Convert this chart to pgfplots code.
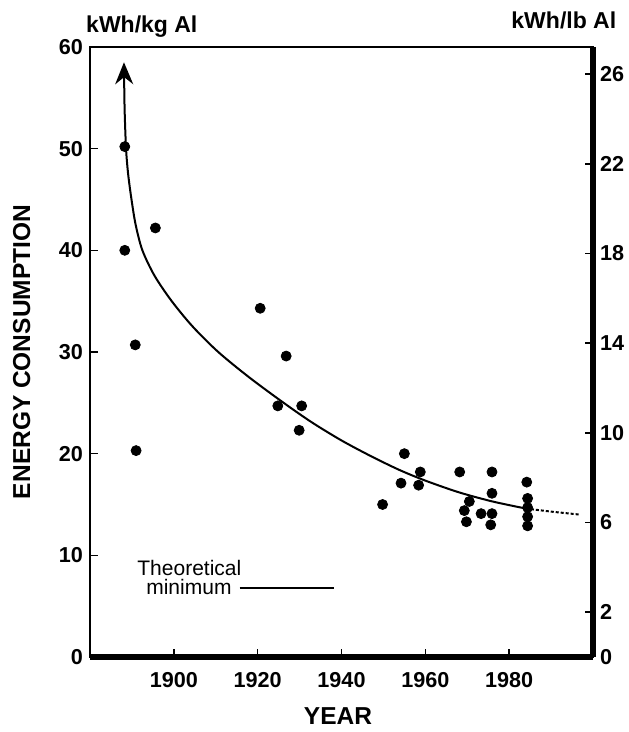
\documentclass[border=0pt]{standalone}
\usepackage{pgfplots}
\pgfplotsset{compat=1.18}
\usepackage{fontspec}
\setmainfont{Liberation Sans}
\usetikzlibrary{arrows.meta}
\begin{document}
\begin{tikzpicture}
\useasboundingbox (-45pt,-37.5pt) rectangle (269pt,328.5pt);
\begin{axis}[
  scale only axis, width=251.5pt, height=305pt,
  xmin=1880, xmax=2000, ymin=0, ymax=60,
  xtick={1900,1920,1940,1960,1980}, ytick={0,10,20,30,40,50,60},
  xtick pos=bottom, ytick pos=left,
  tick align=inside, major tick length=4pt,
  tick style={line width=0.8pt, black},
  axis line style={line width=1pt},
  /pgf/number format/assume math mode=true,
  /pgf/number format/1000 sep={},
  tick label style={font=\fontsize{10.8}{12}\selectfont\bfseries},
  x tick label style={yshift=-4pt},
  xlabel={YEAR}, ylabel={ENERGY CONSUMPTION},
  every axis y label/.style={at={(rel axis cs:-0.136,0.5)}, rotate=90, anchor=center, font=\fontsize{12.25}{14}\selectfont\bfseries},
  every axis x label/.style={at={(rel axis cs:0.493,-0.097)}, anchor=center, font=\fontsize{12.25}{14}\selectfont\bfseries},
  clip=false,
]
\draw[line width=3pt] (rel axis cs:0,0) -- (rel axis cs:1,0);
\addplot[only marks, mark=*, mark size=2.5pt, black] coordinates {
(1888.3,50.2) (1888.3,40.0) (1895.6,42.2) (1890.8,30.7) (1891.0,20.3)
(1920.6,34.3) (1926.8,29.6) (1924.8,24.7) (1930.5,24.7) (1929.9,22.3)
(1949.8,15.0) (1955.0,20.0) (1954.2,17.1) (1958.8,18.2) (1958.4,16.9)
(1968.2,18.2) (1970.5,15.3) (1969.3,14.4) (1969.8,13.3) (1973.3,14.1)
(1975.9,18.2) (1975.9,16.1) (1975.9,14.1) (1975.6,13.0)
(1984.2,17.2) (1984.4,15.6) (1984.4,14.7) (1984.4,13.8) (1984.4,12.9)
};
\addplot[black, line width=1pt, smooth, tension=0.5, -{Stealth[length=11pt,width=9pt]}] coordinates {
(1984,14.6) (1976,15.3) (1968,16.2) (1960,17.35) (1953.8,18.4) (1947,19.76)
(1940,21.3) (1933,23.06) (1926.2,25) (1918,27.5) (1910.6,30) (1904.5,32.5)
(1899.5,35) (1895.4,37.5) (1892.5,40) (1890.9,42.5) (1889.9,45) (1889.1,47.5)
(1888.6,50) (1888.25,54) (1888.1,58.5)
};
\addplot[black, line width=1pt, dash pattern=on 1.5pt off 1pt] coordinates {
(1984,14.6) (1990,14.3) (1997,14.0)
};
\node[anchor=base, font=\fontsize{10.5}{12}\selectfont] at (axis cs:1903.7,8.06) {Theoretical};
\node[anchor=base, font=\fontsize{10.5}{12}\selectfont] at (axis cs:1903.6,6.1) {minimum};
\draw[line width=0.7pt] (axis cs:1915.7,6.8) -- (axis cs:1938.3,6.8);
\node[anchor=base, font=\fontsize{11.5}{13}\selectfont\bfseries] at (rel axis cs:0.103,1.023) {kWh/kg Al};
\node[anchor=base, font=\fontsize{11.5}{13}\selectfont\bfseries] at (rel axis cs:0.942,1.031) {kWh/lb Al};
\end{axis}
\begin{axis}[
  scale only axis, width=251.5pt, height=305pt,
  xmin=1880, xmax=2000, ymin=0, ymax=27.2155,
  axis x line=none, axis y line*=right,
  ytick={0,2,6,10,14,18,22,26},
  tick align=inside, major tick length=4pt,
  tick style={line width=0.8pt, black},
  y axis line style={line width=2.6pt},
  /pgf/number format/assume math mode=true,
  tick label style={font=\fontsize{10.8}{12}\selectfont\bfseries},
]
\end{axis}
\end{tikzpicture}
\end{document}
